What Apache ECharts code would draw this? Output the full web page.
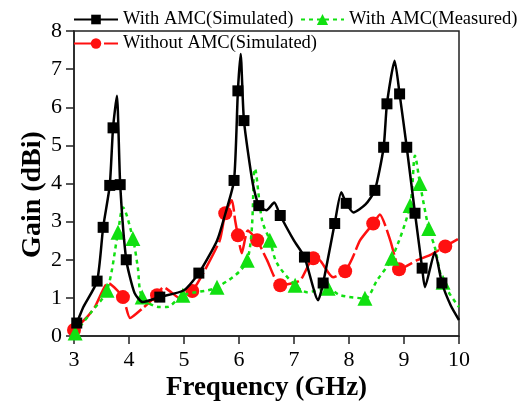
<!DOCTYPE html>
<html><head><meta charset="utf-8">
<script src="https://cdn.jsdelivr.net/npm/echarts@6/dist/echarts.min.js"></script>
<style>html,body{margin:0;padding:0;background:#fff}#c{width:527px;height:408px}</style>
</head><body><div id="c"></div>
<script>
// X ticks / Y ticks
const xTicks = [3,4,5,6,7,8,9,10];
const yTicks = [0,1,2,3,4,5,6,7,8];

// With AMC (Simulated): curve points and marker points
const simCurve = [[3.0,0.22],[3.17,0.76],[3.78,6.3],[4.1,1.13],[4.25,0.89],[5.0,1.2],[5.6,2.5],[5.75,3.2],[6.03,7.4],[6.25,4.0],[6.5,3.3],[6.64,3.5],[7.0,2.5],[7.44,0.94],[7.86,3.77],[8.08,3.24],[8.3,3.45],[8.83,7.22],[9.38,1.28],[9.56,2.2],[9.85,0.8],[10.0,0.42]];
const simMarkers = [[3.05,0.34],[3.42,1.44],[3.53,2.85],[3.65,3.95],[3.71,5.46],[3.84,3.97],[3.95,2.0],[4.56,1.02],[5.27,1.65],[5.91,4.08],[5.98,6.43],[6.09,5.65],[6.36,3.42],[6.75,3.16],[7.19,2.07],[7.53,1.39],[7.74,2.95],[7.95,3.48],[8.47,3.82],[8.63,4.95],[8.69,6.09],[8.92,6.35],[9.05,4.95],[9.2,3.22],[9.33,1.78],[9.69,1.39]];

// With AMC (Measured)
const measCurve = [[3.3,0.6],[3.89,3.37],[4.16,1.8],[4.56,0.76],[4.69,0.76],[6.29,4.39],[6.42,3.03],[6.69,1.91],[7.24,1.15],[7.84,1.07],[8.51,1.46],[9.2,4.73],[9.56,2.33],[10.0,0.76]];
const measMarkers = [[3.02,0.08],[3.6,1.2],[3.8,2.72],[4.07,2.56],[4.24,1.02],[4.98,1.07],[5.6,1.28],[6.15,1.99],[6.56,2.51],[7.02,1.33],[7.62,1.25],[8.29,0.99],[8.78,2.04],[9.11,3.42],[9.29,4.0],[9.45,2.82],[9.71,1.41]];

// Without AMC (Simulated)
const noCurve = [[3.24,0.5],[3.38,0.76],[3.62,1.39],[4.02,0.47],[4.25,0.73],[4.62,1.28],[4.98,0.94],[5.35,1.65],[5.65,2.51],[5.87,3.56],[5.93,3.03],[6.05,2.17],[6.16,2.77],[6.51,1.99],[7.11,1.46],[7.47,1.99],[7.71,1.54],[8.07,2.07],[8.2,2.51],[8.56,3.19],[8.75,2.51],[8.84,2.04],[9.24,1.99],[9.47,2.12],[9.98,2.54]];
const noMarkers = [[3.0,0.16],[3.89,1.02],[4.51,1.07],[5.15,1.18],[5.75,3.22],[5.98,2.64],[6.33,2.51],[6.75,1.33],[7.35,2.04],[7.93,1.7],[8.44,2.95],[8.91,1.75],[9.75,2.35]];

function build(curve, markers){
  const items = curve.map(p => ({value:p, symbol:'none'}))
    .concat(markers.map(p => ({value:p})));
  items.sort((a,b) => a.value[0] - b.value[0]);
  return items;
}

const serif = '"Liberation Serif","DejaVu Serif",serif';
const chart = echarts.init(document.getElementById('c'));
const legendText = {fontFamily: serif, fontSize: 18.5, color: '#000'};
chart.setOption({
  animation: false,
  grid: {left: 74, right: 68, top: 31, bottom: 72, show: true, borderColor: '#222', borderWidth: 1.5},
  legend: [
    {data:['With AMC(Simulated)'], left: 68, top: 5, itemWidth: 44, itemHeight: 12, textStyle: legendText},
    {data:['With AMC(Measured)'], left: 295, top: 5, itemWidth: 43, itemHeight: 14, textStyle: legendText},
    {data:['Without AMC(Simulated)'], left: 68, top: 29, itemWidth: 44, itemHeight: 13, textStyle: legendText}
  ],
  xAxis: {
    type: 'value', min: 3, max: 10, interval: 1,
    name: 'Frequency (GHz)', nameLocation: 'middle', nameGap: 39, nameMoveOverlap: false,
    nameTextStyle: {fontFamily: serif, fontSize: 27, fontWeight: 'bold', color: '#000'},
    axisLine: {lineStyle: {color: '#222', width: 1.5}},
    axisTick: {show: true, length: 8, lineStyle: {color: '#222', width: 1.5}},
    axisLabel: {fontFamily: serif, fontSize: 22, color: '#000', margin: 13},
    splitLine: {show: false}
  },
  yAxis: {
    type: 'value', min: 0, max: 8, interval: 1,
    name: 'Gain (dBi)', nameLocation: 'middle', nameGap: 27, nameMoveOverlap: false,
    nameTextStyle: {fontFamily: serif, fontSize: 28, fontWeight: 'bold', color: '#000', padding: [0, 22, 0, 0]},
    axisLine: {show: true, lineStyle: {color: '#222', width: 1.5}},
    axisTick: {show: true, length: 8, lineStyle: {color: '#222', width: 1.5}},
    axisLabel: {fontFamily: serif, fontSize: 22, color: '#000', margin: 12},
    splitLine: {show: false}
  },
  series: [
    {name: 'Without AMC(Simulated)', type: 'line', data: build(noCurve, noMarkers), smooth: 0.2,
     symbol: 'circle', symbolSize: 14, z: 2,
     itemStyle: {color: '#ff1010'}, lineStyle: {color: '#ff1010', width: 2.5, type: [26,4]}},
    {name: 'With AMC(Measured)', type: 'line', data: build(measCurve, measMarkers), smooth: 0.3,
     symbol: 'triangle', symbolSize: 15, z: 3,
     itemStyle: {color: '#11e011'}, lineStyle: {color: '#11e011', width: 2.5, type: [4,4]}},
    {name: 'With AMC(Simulated)', type: 'line', data: build(simCurve, simMarkers), smooth: 0.2,
     symbol: 'rect', symbolSize: 11, z: 4,
     itemStyle: {color: '#000'}, lineStyle: {color: '#000', width: 2.5}}
  ]
});
</script></body></html>
